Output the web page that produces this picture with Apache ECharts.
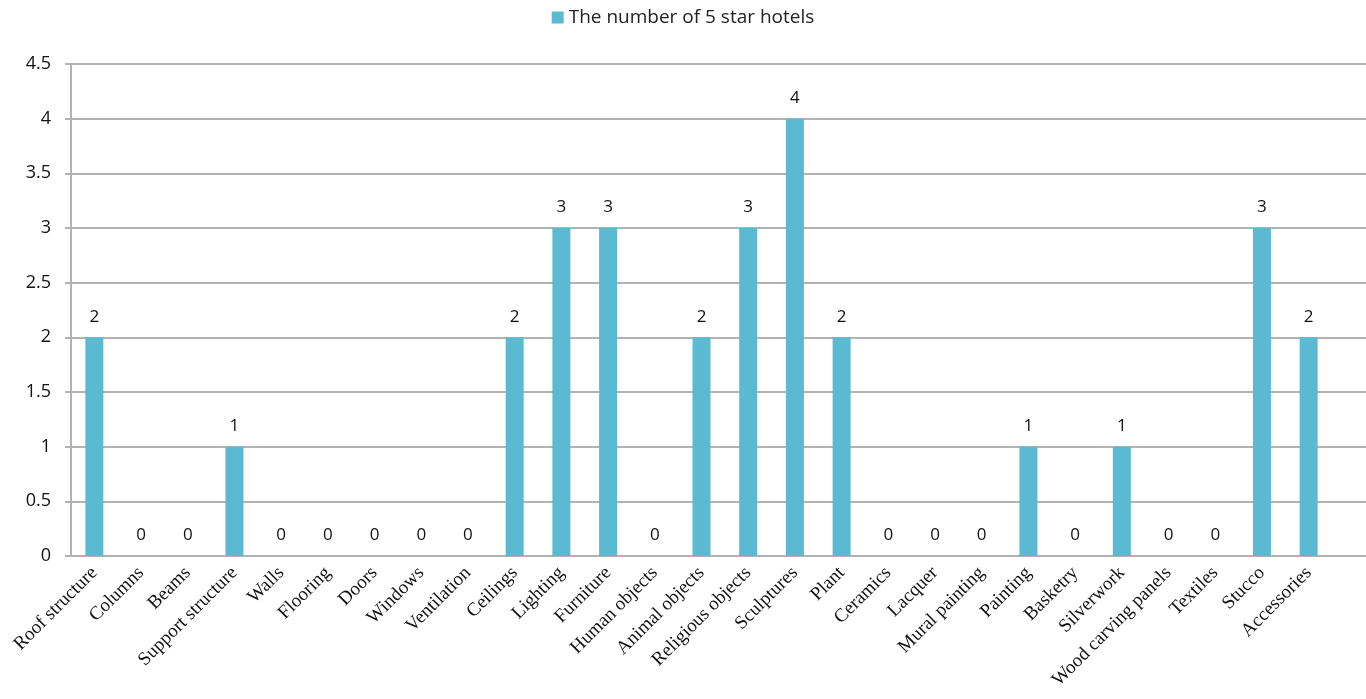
<!DOCTYPE html>
<html><head><meta charset="utf-8">
<script src="https://cdn.jsdelivr.net/npm/echarts@6/dist/echarts.min.js"></script>
<style>html,body{margin:0;padding:0;background:#fff}#c{width:1366px;height:699px}</style>
</head><body><div id="c"></div>
<script>
const categories = ["Roof structure","Columns","Beams","Support structure","Walls","Flooring","Doors","Windows","Ventilation","Ceilings","Lighting","Furniture","Human objects","Animal objects","Religious objects","Sculptures","Plant","Ceramics","Lacquer","Mural painting","Painting","Basketry","Silverwork","Wood carving panels","Textiles","Stucco","Accessories"];
const hotels5 = [2,0,0,1,0,0,0,0,0,2,3,3,0,2,3,4,2,0,0,0,1,0,1,0,0,3,2];
const seriesName = "The number of 5 star hotels";
const yTicks = {min:0, max:4.5, interval:0.5};

const chart = echarts.init(document.getElementById('c'));
chart.setOption({
  animation:false,
  legend:{top:3,left:'center',itemWidth:12,itemHeight:12,itemGap:5,icon:'rect',
    textStyle:{fontFamily:'Open Sans',fontSize:19,color:'#222'},data:[seriesName]},
  grid:[
    {left:71,top:64,width:1261,height:492,containLabel:false},
    {left:71,top:64,right:0,height:492,containLabel:false}
  ],
  xAxis:[
    {type:'category',gridIndex:0,data:categories,
     axisLine:{lineStyle:{color:'#b3b3b3',width:2}},
     axisTick:{alignWithLabel:false,length:6,lineStyle:{color:'#b3b3b3',width:2}},
     axisLabel:{rotate:45,interval:0,margin:14,fontFamily:'Liberation Serif',fontSize:19,color:'#111'}},
    {type:'value',gridIndex:1,show:false,min:0,max:1}
  ],
  yAxis:[
    {type:'value',gridIndex:0,min:yTicks.min,max:yTicks.max,interval:yTicks.interval,
     axisLine:{show:true,lineStyle:{color:'#b3b3b3',width:2}},
     axisTick:{show:true,length:6,lineStyle:{color:'#b3b3b3',width:2}},
     splitLine:{show:false},
     axisLabel:{margin:20,fontFamily:'Open Sans',fontSize:18,color:'#111'}},
    {type:'value',gridIndex:1,min:yTicks.min,max:yTicks.max,interval:yTicks.interval,
     axisLine:{show:false},axisTick:{show:false},axisLabel:{show:false},
     splitLine:{show:true,lineStyle:{color:'#b3b3b3',width:2}}}
  ],
  series:[{
    name:seriesName,type:'bar',xAxisIndex:0,yAxisIndex:0,data:hotels5,barWidth:18,
    itemStyle:{color:'#5bb9d1'},z:3,
    label:{show:true,position:'top',distance:12,fontFamily:'Open Sans',fontSize:17,color:'#111'}
  }]
});
</script></body></html>
